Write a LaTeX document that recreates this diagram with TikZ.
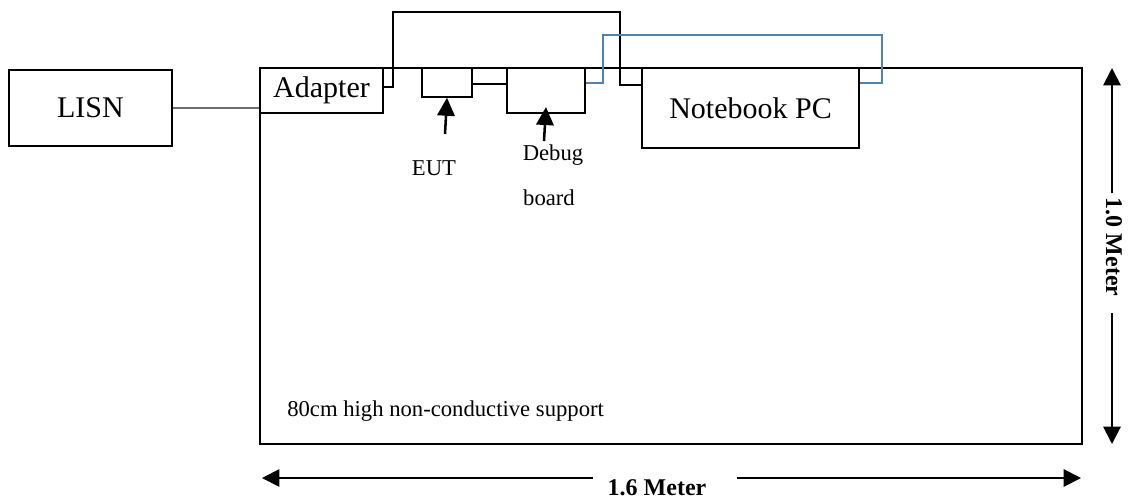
\documentclass[tikz,border=0pt]{standalone}
\usepackage{fontspec}
\setmainfont{Liberation Serif}
\usetikzlibrary{fit,arrows.meta}
\definecolor{usbblue}{RGB}{79,129,189}
\definecolor{cordgray}{RGB}{110,110,110}
\tikzset{
  box/.style={draw=black, line width=1.1pt, inner sep=0pt},
  bigfont/.style={font=\fontsize{22.5}{26}\selectfont},
  smallfont/.style={font=\fontsize{17}{20}\selectfont},
  dimfont/.style={font=\bfseries\fontsize{18}{21}\selectfont, inner sep=0pt},
  cable/.style={draw=black, line width=0.9pt},
  usb/.style={draw=usbblue, line width=0.9pt},
  pointer/.style={line width=1.9pt, -{Triangle[length=13.5pt,width=13pt]}},
  dimline/.style={line width=1.4pt, -{Triangle[length=13pt,width=13pt]}}
}
\begin{document}
\begin{tikzpicture}[x=0.75pt, y=-0.75pt]
\useasboundingbox[fill=white] (0,0) rectangle (1128,500);

% test table
\node[draw=black, line width=1.9pt, inner sep=0pt, fit={(260,68) (1082,444)}] (table) {};

% equipment boxes
\node[box, fit={(9,70) (172,146)}, label={[bigfont]center:LISN}] (lisn) {};
\node[box, fit={(260,68) (383,113)}, label={[bigfont]center:Adapter}] (adapter) {};
\node[box, fit={(422,68) (472,97)}] (eut) {};
\node[box, fit={(507,68) (585,113)}] (debug) {};
\node[box, fit={(642,68) (859,148)}, label={[bigfont]center:Notebook PC}] (notebook) {};

% cables
\draw[draw=cordgray, line width=1.2pt] (lisn.east) -- (lisn.east -| table.west);
\draw[cable] (adapter.east |- 0,87) -- (393,87) |- (620,12) -- (620,85) -- (notebook.west |- 0,85);
\draw[cable] (eut.east |- 0,84) -- (debug.west |- 0,84);
\draw[usb] (debug.east |- 0,83) -- (603,83) |- (882,35) |- (notebook.east |- 0,83);

% pointers and labels
\node[smallfont, inner sep=0pt] (eutlbl) at (434,168) {EUT};
\node[smallfont, inner sep=0pt] (dbglbl) at (553,155) {Debug};
\node[smallfont, inner sep=0pt] (brdlbl) at (549,198) {board};
\draw[pointer] (445,134) -- (eut.south);
\draw[pointer] (544,141) -- ([yshift=5pt]debug.south);

\node[smallfont, anchor=west, inner sep=0pt] (support) at (287,411) {80cm high non-conductive support};

% dimensions
\coordinate (hl) at (262,478);
\coordinate (hr) at (1081,478);
\node[dimfont] (dimh) at (657,488) {1.6 Meter};
\draw[dimline] (593,478) -- (hl);
\draw[dimline] (737,478) -- (hr);

\coordinate (vt) at (1112,68);
\coordinate (vb) at (1112,444);
\node[dimfont, rotate=-90] (dimv) at (1114,247) {1.0 Meter};
\draw[dimline] (1112,193) -- (vt);
\draw[dimline] (1112,313) -- (vb);
\end{tikzpicture}
\end{document}
